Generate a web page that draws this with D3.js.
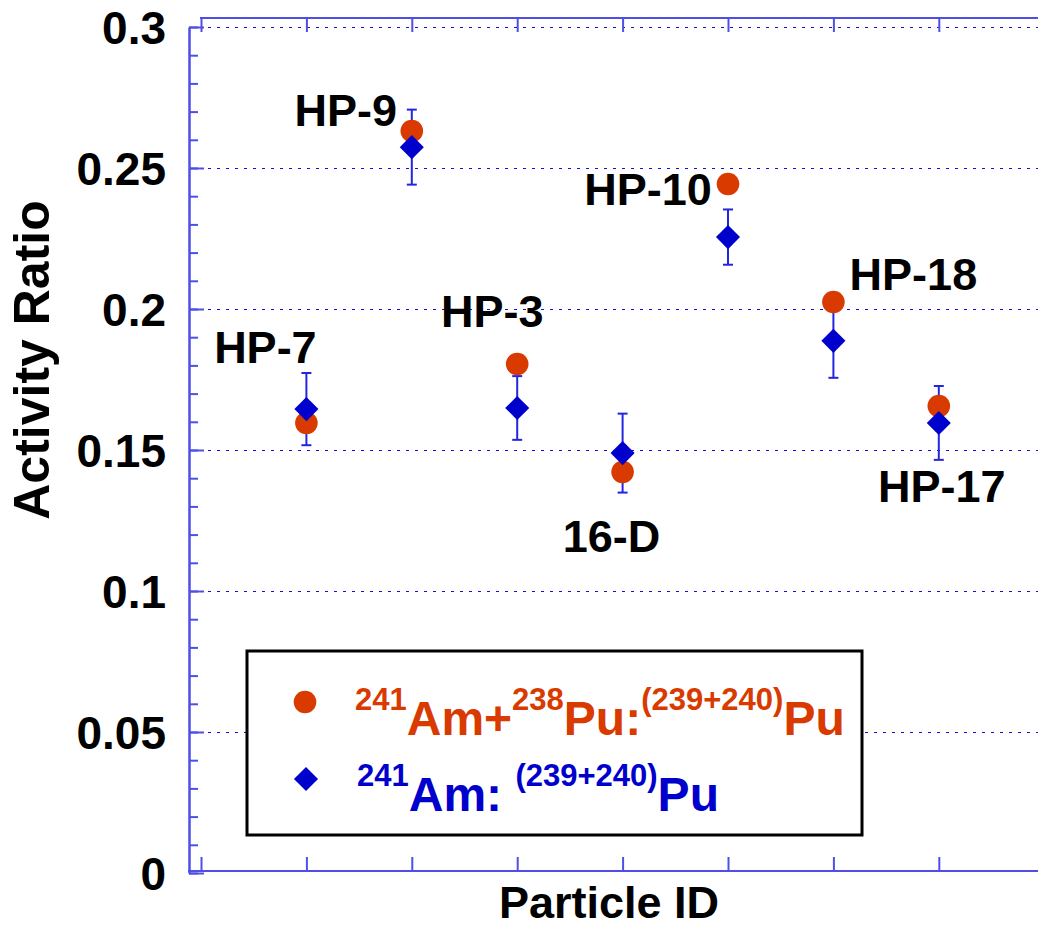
<!DOCTYPE html>
<html>
<head>
<meta charset="utf-8">
<script src="https://cdn.jsdelivr.net/npm/d3@7"></script>
<style>
  body { margin: 0; background: #fff; }
  svg { display: block; font-family: "Liberation Sans", Arial, sans-serif; font-weight: bold; }
  text { white-space: pre; }
</style>
</head>
<body>
<svg id="chart" width="1038" height="928"></svg>
<script>
// data
var particles = ["HP-7", "HP-9", "HP-3", "16-D", "HP-10", "HP-18", "HP-17"];
var amPu238 = [0.1596, 0.2631, 0.1805, 0.1422, 0.2443, 0.2025, 0.1656];
var am241 = [0.1645, 0.2574, 0.1649, 0.1489, 0.2255, 0.1887, 0.1596];
var am241Err = [0.0128, 0.0133, 0.0113, 0.0140, 0.0098, 0.0131, 0.0131];
var yTicks = [0, 0.05, 0.1, 0.15, 0.2, 0.25, 0.3];
var yTickLabels = ["0", "0.05", "0.1", "0.15", "0.2", "0.25", "0.3"];
// label offsets (px) from the diamond point
var labelOffsets = [[-41, -46], [-66, -21], [-25, -81], [-11, 99], [-80, -32], [80, -51], [3, 79]];

var red = "#d83a00", blue = "#0000cc", axisBlue = "#4f4fe6";

var svg = d3.select("#chart");
var x = d3.scaleLinear().domain([0, 8]).range([201, 201 + 8 * 105.4]);
var y = d3.scaleLinear().domain([0, 0.3]).range([873, 27]);

// gridlines
svg.append("g").selectAll("line").data(yTicks.slice(1)).enter().append("line")
  .attr("x1", 190).attr("x2", 1038)
  .attr("y1", function(d){ return Math.round(y(d)) + 0.5; }).attr("y2", function(d){ return Math.round(y(d)) + 0.5; })
  .attr("stroke", "#1010dd").attr("stroke-width", 1).attr("stroke-dasharray", "3,6")
  .attr("shape-rendering", "crispEdges");

// left axis
var leftAx = svg.append("g").attr("transform", "translate(189,0)");
leftAx.call(d3.axisLeft(y).tickValues(d3.range(0, 0.3001, 0.01)).tickFormat("").tickSize(-9).tickSizeOuter(0));
leftAx.append("g").call(d3.axisLeft(y).tickValues(yTicks).tickFormat("").tickSize(-15).tickSizeOuter(0));
leftAx.selectAll("path.domain").attr("stroke", axisBlue).attr("stroke-width", 2);
leftAx.selectAll(".tick line").attr("stroke", axisBlue).attr("stroke-width", 2);

svg.append("g").selectAll("text").data(yTicks).enter().append("text")
  .attr("x", 166).attr("y", function(d){ return y(d) + 17; })
  .attr("text-anchor", "end").attr("font-size", 46).attr("fill", "#000")
  .text(function(d, i){ return yTickLabels[i]; });

// bottom axis
var bottomAx = svg.append("g").attr("transform", "translate(0,871)");
bottomAx.call(d3.axisBottom(x).tickValues(d3.range(0, 8)).tickFormat("").tickSize(-14).tickSizeOuter(0));
bottomAx.select("path.domain").attr("d", "M188,0H1038");
bottomAx.selectAll("path.domain").attr("stroke", axisBlue).attr("stroke-width", 2);
bottomAx.selectAll(".tick line").attr("stroke", axisBlue).attr("stroke-width", 2);

// top axis
var topAx = svg.append("g").attr("transform", "translate(0,18)");
topAx.call(d3.axisTop(x).tickValues(d3.range(0, 8)).tickFormat("").tickSize(-14).tickSizeOuter(0));
topAx.select("path.domain").attr("d", "M200,0H1038");
topAx.selectAll("path.domain").attr("stroke", axisBlue).attr("stroke-width", 2);
topAx.selectAll(".tick line").attr("stroke", axisBlue).attr("stroke-width", 2);

// axis titles
svg.append("text").attr("transform", "translate(49,360) rotate(-90)")
  .attr("text-anchor", "middle").attr("font-size", 50).text("Activity Ratio");
svg.append("text").attr("x", 609).attr("y", 918)
  .attr("text-anchor", "middle").attr("font-size", 45).text("Particle ID");

// error bars
var eb = svg.append("g").attr("stroke", "#2525e0").attr("stroke-width", 2);
particles.forEach(function(p, i){
  var cx = x(i + 1), y0 = y(am241[i] - am241Err[i]), y1 = y(am241[i] + am241Err[i]);
  eb.append("line").attr("x1", cx).attr("x2", cx).attr("y1", y0).attr("y2", y1);
  eb.append("line").attr("x1", cx - 5).attr("x2", cx + 5).attr("y1", y0).attr("y2", y0);
  eb.append("line").attr("x1", cx - 5).attr("x2", cx + 5).attr("y1", y1).attr("y2", y1);
});

// markers
svg.append("g").selectAll("circle").data(amPu238).enter().append("circle")
  .attr("cx", function(d, i){ return x(i + 1); }).attr("cy", function(d){ return y(d); })
  .attr("r", 11.3).attr("fill", red);

var diamond = d3.symbol().type(d3.symbolSquare).size(290);
svg.append("g").selectAll("path").data(am241).enter().append("path")
  .attr("d", diamond)
  .attr("transform", function(d, i){ return "translate(" + x(i + 1) + "," + y(d) + ") rotate(45)"; })
  .attr("fill", blue);

// particle labels
svg.append("g").selectAll("text").data(particles).enter().append("text")
  .attr("x", function(d, i){ return x(i + 1) + labelOffsets[i][0]; })
  .attr("y", function(d, i){ return y(am241[i]) + labelOffsets[i][1]; })
  .attr("text-anchor", "middle").attr("font-size", 45).attr("fill", "#000")
  .text(function(d){ return d; });

// legend
var lg = svg.append("g");
lg.append("rect").attr("x", 247).attr("y", 651).attr("width", 615).attr("height", 184)
  .attr("fill", "#fff").attr("stroke", "#000").attr("stroke-width", 3);
lg.append("circle").attr("cx", 305).attr("cy", 702).attr("r", 11.3).attr("fill", red);
lg.append("path").attr("d", diamond)
  .attr("transform", "translate(306,779) rotate(45)").attr("fill", blue);

function legendLine(parts, tx, ty, color) {
  var t = lg.append("text").attr("transform", "translate(" + tx + "," + ty + ")").attr("fill", color);
  var prevSup = false;
  parts.forEach(function(p){
    var sup = p[1];
    var dy = sup === prevSup ? 0 : (sup ? -25 : 25);
    t.append("tspan").attr("dy", dy).attr("font-size", sup ? 31 : 48).text(p[0]);
    prevSup = sup;
  });
}
legendLine([["241", true], ["Am+", false], ["238", true], ["Pu:", false], ["(239+240)", true], ["Pu", false]], 355, 735, red);
legendLine([["241", true], ["Am: ", false], ["(239+240)", true], ["Pu", false]], 357, 811, blue);
</script>
</body>
</html>
